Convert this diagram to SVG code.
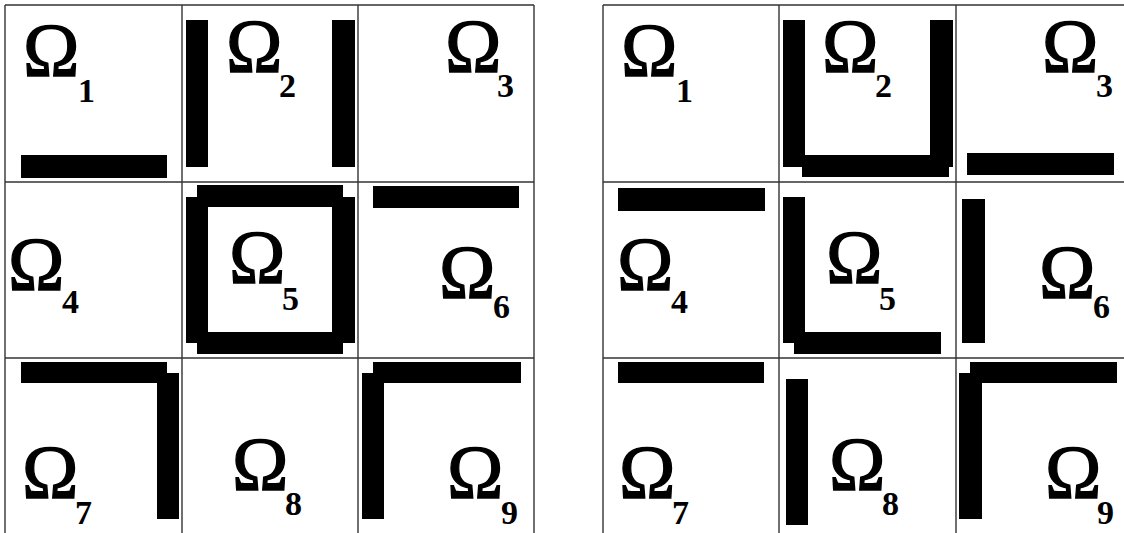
<svg xmlns="http://www.w3.org/2000/svg" width="1124" height="533" viewBox="0 0 1124 533">
<style>
.g{stroke:#333;stroke-width:1.4;fill:none}
.b{fill:#000}
.om{font-family:"Liberation Serif","Times New Roman",serif;font-size:76px;fill:#000;stroke:#000;stroke-width:1.3}
.sb{font-size:34px;font-weight:bold;stroke:none}
</style>
<rect width="1124" height="533" fill="#fff"/>
<g id="grid-left" class="g">
<line x1="5" y1="5" x2="534" y2="5"/><line x1="5" y1="182" x2="534" y2="182"/><line x1="5" y1="358" x2="534" y2="358"/>
<line x1="5" y1="5" x2="5" y2="533"/><line x1="182" y1="5" x2="182" y2="533"/><line x1="358" y1="5" x2="358" y2="533"/><line x1="534" y1="5" x2="534" y2="533"/>
</g>
<g id="grid-right" class="g">
<line x1="603" y1="5" x2="1124" y2="5"/><line x1="603" y1="182" x2="1124" y2="182"/><line x1="603" y1="358" x2="1124" y2="358"/>
<line x1="603" y1="5" x2="603" y2="533"/><line x1="779" y1="5" x2="779" y2="533"/><line x1="956" y1="5" x2="956" y2="533"/>
</g>
<g id="L1"><rect class="b" x="21" y="155" width="146" height="23"/><text class="om" x="23" y="76">Ω<tspan class="sb" x="78" y="102">1</tspan></text></g>
<g id="L2"><rect class="b" x="186" y="20" width="22" height="147"/><rect class="b" x="332" y="20" width="23" height="147"/><text class="om" x="226" y="72">Ω<tspan class="sb" x="279" y="97">2</tspan></text></g>
<g id="L3"><text class="om" x="445" y="72">Ω<tspan class="sb" x="497" y="97">3</tspan></text></g>
<g id="L4"><text class="om" x="8" y="290">Ω<tspan class="sb" x="62" y="313">4</tspan></text></g>
<g id="L5"><rect class="b" x="197" y="185" width="146" height="22"/><rect class="b" x="186" y="197" width="22" height="146"/><rect class="b" x="197" y="332" width="146" height="22"/><rect class="b" x="332" y="197" width="23" height="146"/><text class="om" x="229" y="283">Ω<tspan class="sb" x="282" y="310">5</tspan></text></g>
<g id="L6"><rect class="b" x="373" y="186" width="146" height="22"/><text class="om" x="439" y="298">Ω<tspan class="sb" x="493" y="318">6</tspan></text></g>
<g id="L7"><rect class="b" x="21" y="362" width="146" height="21"/><rect class="b" x="157" y="373" width="22" height="146"/><text class="om" x="22" y="498">Ω<tspan class="sb" x="75" y="524">7</tspan></text></g>
<g id="L8"><text class="om" x="232" y="490">Ω<tspan class="sb" x="285" y="515">8</tspan></text></g>
<g id="L9"><rect class="b" x="373" y="362" width="148" height="21"/><rect class="b" x="362" y="373" width="22" height="146"/><text class="om" x="447" y="498">Ω<tspan class="sb" x="501" y="524">9</tspan></text></g>
<g id="R1"><text class="om" x="621" y="76">Ω<tspan class="sb" x="676" y="102">1</tspan></text></g>
<g id="R2"><rect class="b" x="783" y="20" width="22" height="147"/><rect class="b" x="930" y="20" width="23" height="147"/><rect class="b" x="802" y="155" width="147" height="22"/><text class="om" x="822" y="72">Ω<tspan class="sb" x="875" y="97">2</tspan></text></g>
<g id="R3"><rect class="b" x="967" y="153" width="147" height="22"/><text class="om" x="1042" y="72">Ω<tspan class="sb" x="1096" y="97">3</tspan></text></g>
<g id="R4"><rect class="b" x="618" y="188" width="147" height="23"/><text class="om" x="617" y="290">Ω<tspan class="sb" x="671" y="313">4</tspan></text></g>
<g id="R5"><rect class="b" x="783" y="197" width="22" height="146"/><rect class="b" x="794" y="332" width="147" height="22"/><text class="om" x="826" y="283">Ω<tspan class="sb" x="879" y="310">5</tspan></text></g>
<g id="R6"><rect class="b" x="962" y="199" width="23" height="144"/><text class="om" x="1039" y="298">Ω<tspan class="sb" x="1093" y="318">6</tspan></text></g>
<g id="R7"><rect class="b" x="618" y="362" width="146" height="21"/><text class="om" x="619" y="498">Ω<tspan class="sb" x="672" y="524">7</tspan></text></g>
<g id="R8"><rect class="b" x="786" y="379" width="22" height="146"/><text class="om" x="829" y="490">Ω<tspan class="sb" x="882" y="515">8</tspan></text></g>
<g id="R9"><rect class="b" x="970" y="362" width="147" height="21"/><rect class="b" x="959" y="373" width="23" height="146"/><text class="om" x="1045" y="498">Ω<tspan class="sb" x="1097" y="524">9</tspan></text></g>
</svg>
